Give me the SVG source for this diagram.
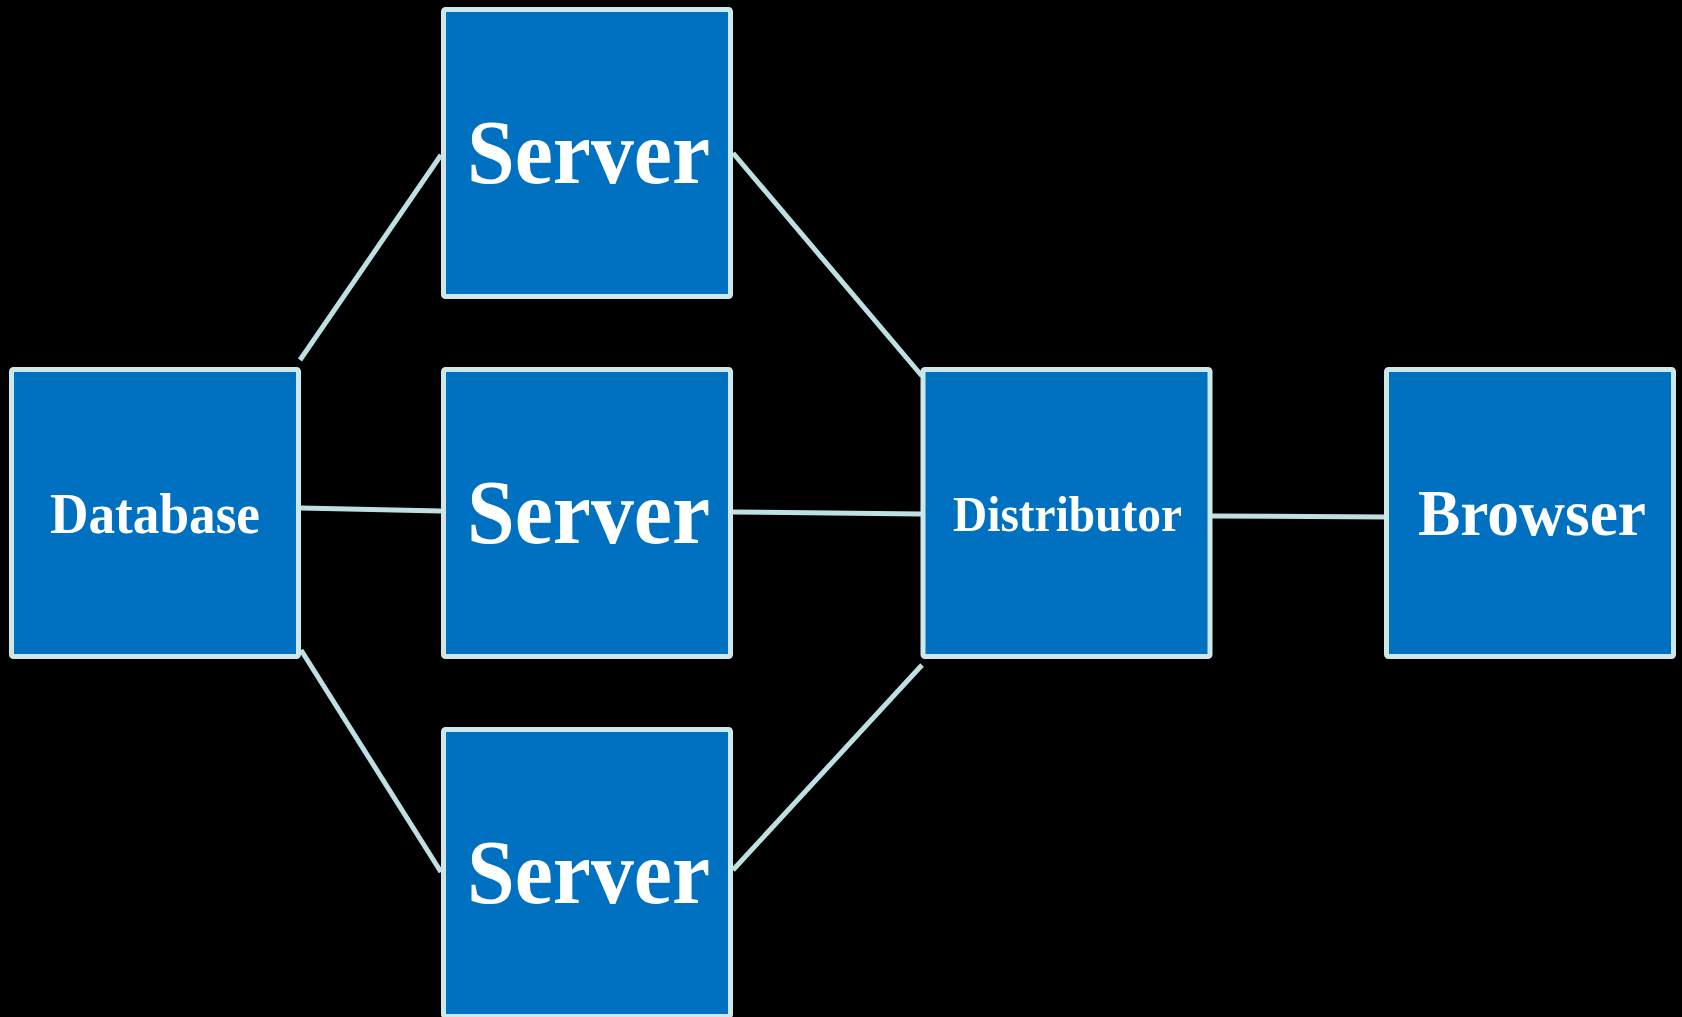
<svg xmlns="http://www.w3.org/2000/svg" width="1682" height="1017" viewBox="0 0 1682 1017">
  <style>
    .box { fill: #0070C0; stroke: #CDE7EA; stroke-width: 5; }
    .label { fill: #FFFFFF; font-family: "Liberation Serif", "DejaVu Serif", serif; font-weight: bold; text-anchor: middle; }
    .link { stroke: #BFE0E3; stroke-width: 5; fill: none; }
  </style>
  <rect width="1682" height="1017" fill="#000000"/>

  <!-- connectors -->
  <g id="connectors">
    <line class="link" x1="300" y1="360" x2="441" y2="155"/>
    <line class="link" x1="301" y1="508" x2="441" y2="511"/>
    <line class="link" x1="301" y1="650" x2="441" y2="872"/>
    <line class="link" x1="733" y1="153" x2="922" y2="376"/>
    <line class="link" x1="733" y1="512" x2="921" y2="514"/>
    <line class="link" x1="733" y1="870" x2="922" y2="665"/>
    <line class="link" x1="1212" y1="516" x2="1387" y2="517"/>
  </g>

  <!-- nodes -->
  <g id="database">
    <rect class="box" x="11.5" y="369.5" width="287" height="287" rx="2"/>
    <text class="label" x="155" y="533" font-size="56" textLength="210" lengthAdjust="spacingAndGlyphs">Database</text>
  </g>
  <g id="server-top">
    <rect class="box" x="443.5" y="9.5" width="287" height="287" rx="2"/>
    <text class="label" x="588.5" y="183" font-size="90" textLength="243" lengthAdjust="spacingAndGlyphs">Server</text>
  </g>
  <g id="server-middle">
    <rect class="box" x="443.5" y="369.5" width="287" height="287" rx="2"/>
    <text class="label" x="588.5" y="543" font-size="90" textLength="243" lengthAdjust="spacingAndGlyphs">Server</text>
  </g>
  <g id="server-bottom">
    <rect class="box" x="443.5" y="729.5" width="287" height="287" rx="2"/>
    <text class="label" x="588.5" y="903" font-size="90" textLength="243" lengthAdjust="spacingAndGlyphs">Server</text>
  </g>
  <g id="distributor">
    <rect class="box" x="923" y="369.5" width="287" height="287" rx="2"/>
    <text class="label" x="1067.5" y="531" font-size="50" textLength="229" lengthAdjust="spacingAndGlyphs">Distributor</text>
  </g>
  <g id="browser">
    <rect class="box" x="1386.5" y="369.5" width="287" height="287" rx="2"/>
    <text class="label" x="1532" y="535" font-size="65" textLength="228" lengthAdjust="spacingAndGlyphs">Browser</text>
  </g>
</svg>
